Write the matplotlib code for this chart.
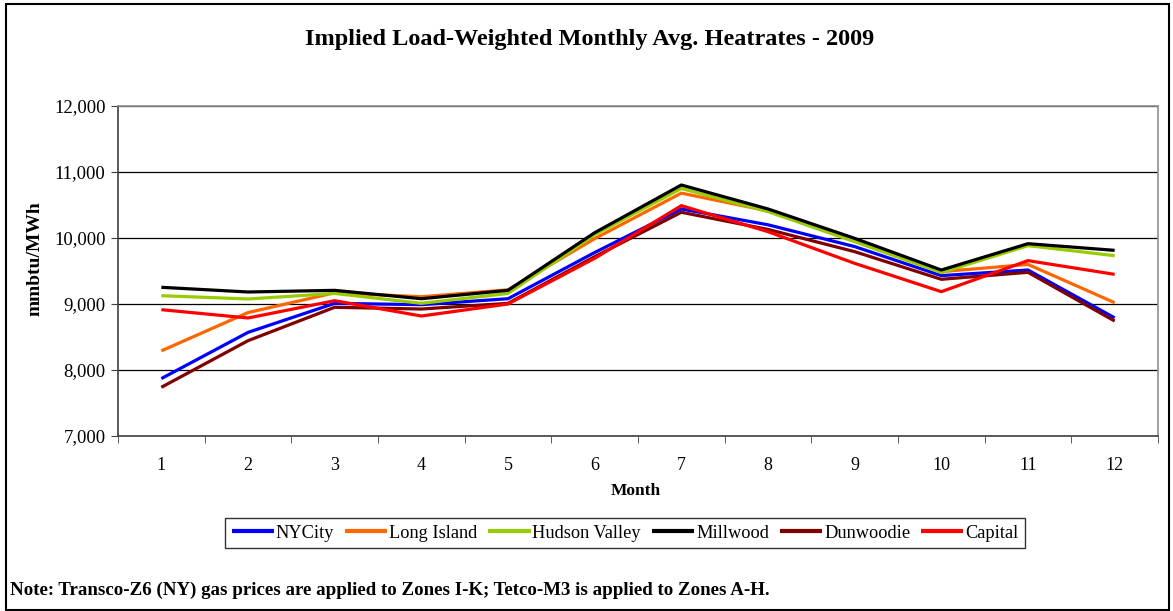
import numpy as np
import matplotlib.pyplot as plt
from matplotlib.patches import Rectangle
from matplotlib.ticker import FuncFormatter, FixedLocator

plt.rcParams['font.family'] = ['Liberation Serif', 'DejaVu Serif']

# Data
months = list(range(1, 13))
nycity = [7870, 8570, 9010, 8990, 9080, 9780, 10440, 10200, 9870, 9430, 9515, 8790]
long_island = [8290, 8870, 9170, 9110, 9215, 9990, 10680, 10410, 9970, 9490, 9600, 9020]
hudson_valley = [9126, 9076, 9160, 9010, 9160, 10050, 10750, 10400, 9944, 9475, 9884, 9732]
millwood = [9253, 9182, 9207, 9080, 9207, 10080, 10803, 10440, 9995, 9515, 9914, 9813]
dunwoodie = [7738, 8444, 8950, 8924, 9010, 9717, 10390, 10130, 9793, 9374, 9480, 8742]
capital = [8914, 8788, 9050, 8818, 9000, 9692, 10490, 10096, 9616, 9187, 9657, 9449]

series = [
    ('NYCity', nycity, '#0000FF'),
    ('Long Island', long_island, '#FF6600'),
    ('Hudson Valley', hudson_valley, '#99CC00'),
    ('Millwood', millwood, '#000000'),
    ('Dunwoodie', dunwoodie, '#800000'),
    ('Capital', capital, '#FF0000'),
]

fig = plt.figure(figsize=(11.73, 6.11), dpi=100)

# outer frame
fig.patches.append(Rectangle((6/1173, 1/611), 1163/1173, 606/611, transform=fig.transFigure,
                             fill=False, edgecolor='black', lw=1.5))

ax = fig.add_axes([118/1173, 1 - 436/611, 1040/1173, 330/611])

for name, vals, color in series:
    ax.plot(months, vals, color=color, lw=2.3, label=name, solid_capstyle='butt')

ax.set_xlim(0.5, 12.5)
ax.set_ylim(7000, 12000)
ax.set_yticks(np.arange(7000, 12001, 1000))
ax.yaxis.set_major_formatter(FuncFormatter(lambda v, p: f'{int(v):,}'))
ax.grid(axis='y', color='black', lw=0.9)
ax.set_axisbelow(True)

ax.set_xticks(months)
ax.xaxis.set_minor_locator(FixedLocator(np.arange(0.5, 12.6, 1)))
ax.tick_params(axis='x', which='major', length=0, pad=15, labelsize=13)
ax.tick_params(axis='x', which='minor', length=5, direction='out', color='#404040')
ax.tick_params(axis='y', length=5, direction='out', color='#404040', labelsize=13.5, pad=4)

for s in ['left', 'bottom']:
    ax.spines[s].set_color('#404040')
    ax.spines[s].set_linewidth(1.2)
for s in ['top', 'right']:
    ax.spines[s].set_color('#909090')
    ax.spines[s].set_linewidth(1.2)

fig.text(590/1173, 1 - 40/611, 'Implied Load-Weighted Monthly Avg. Heatrates - 2009',
         ha='center', va='center', fontsize=17.5, fontweight='bold')
fig.text(35/1173, 1 - 259/611, 'mmbtu/MWh', rotation=90, ha='center', va='center',
         fontsize=14, fontweight='bold')
fig.text(636/1173, 1 - 491/611, 'Month', ha='center', va='center',
         fontsize=12.5, fontweight='bold')

leg = fig.legend(loc='center', bbox_to_anchor=(625/1173, 1 - 533/611), ncol=6,
                 frameon=True, fancybox=False, edgecolor='black', fontsize=13.2,
                 handlelength=2.3, handletextpad=0.1, columnspacing=0.6,
                 borderpad=0.35)
leg.get_frame().set_linewidth(1.0)
for h in leg.get_lines():
    h.set_linewidth(3)

fig.text(10/1173, 1 - 590/611,
         'Note: Transco-Z6 (NY) gas prices are applied to Zones I-K; Tetco-M3 is applied to Zones A-H.',
         ha='left', va='center', fontsize=13.6, fontweight='bold')

fig.savefig('out.png', dpi=100)
